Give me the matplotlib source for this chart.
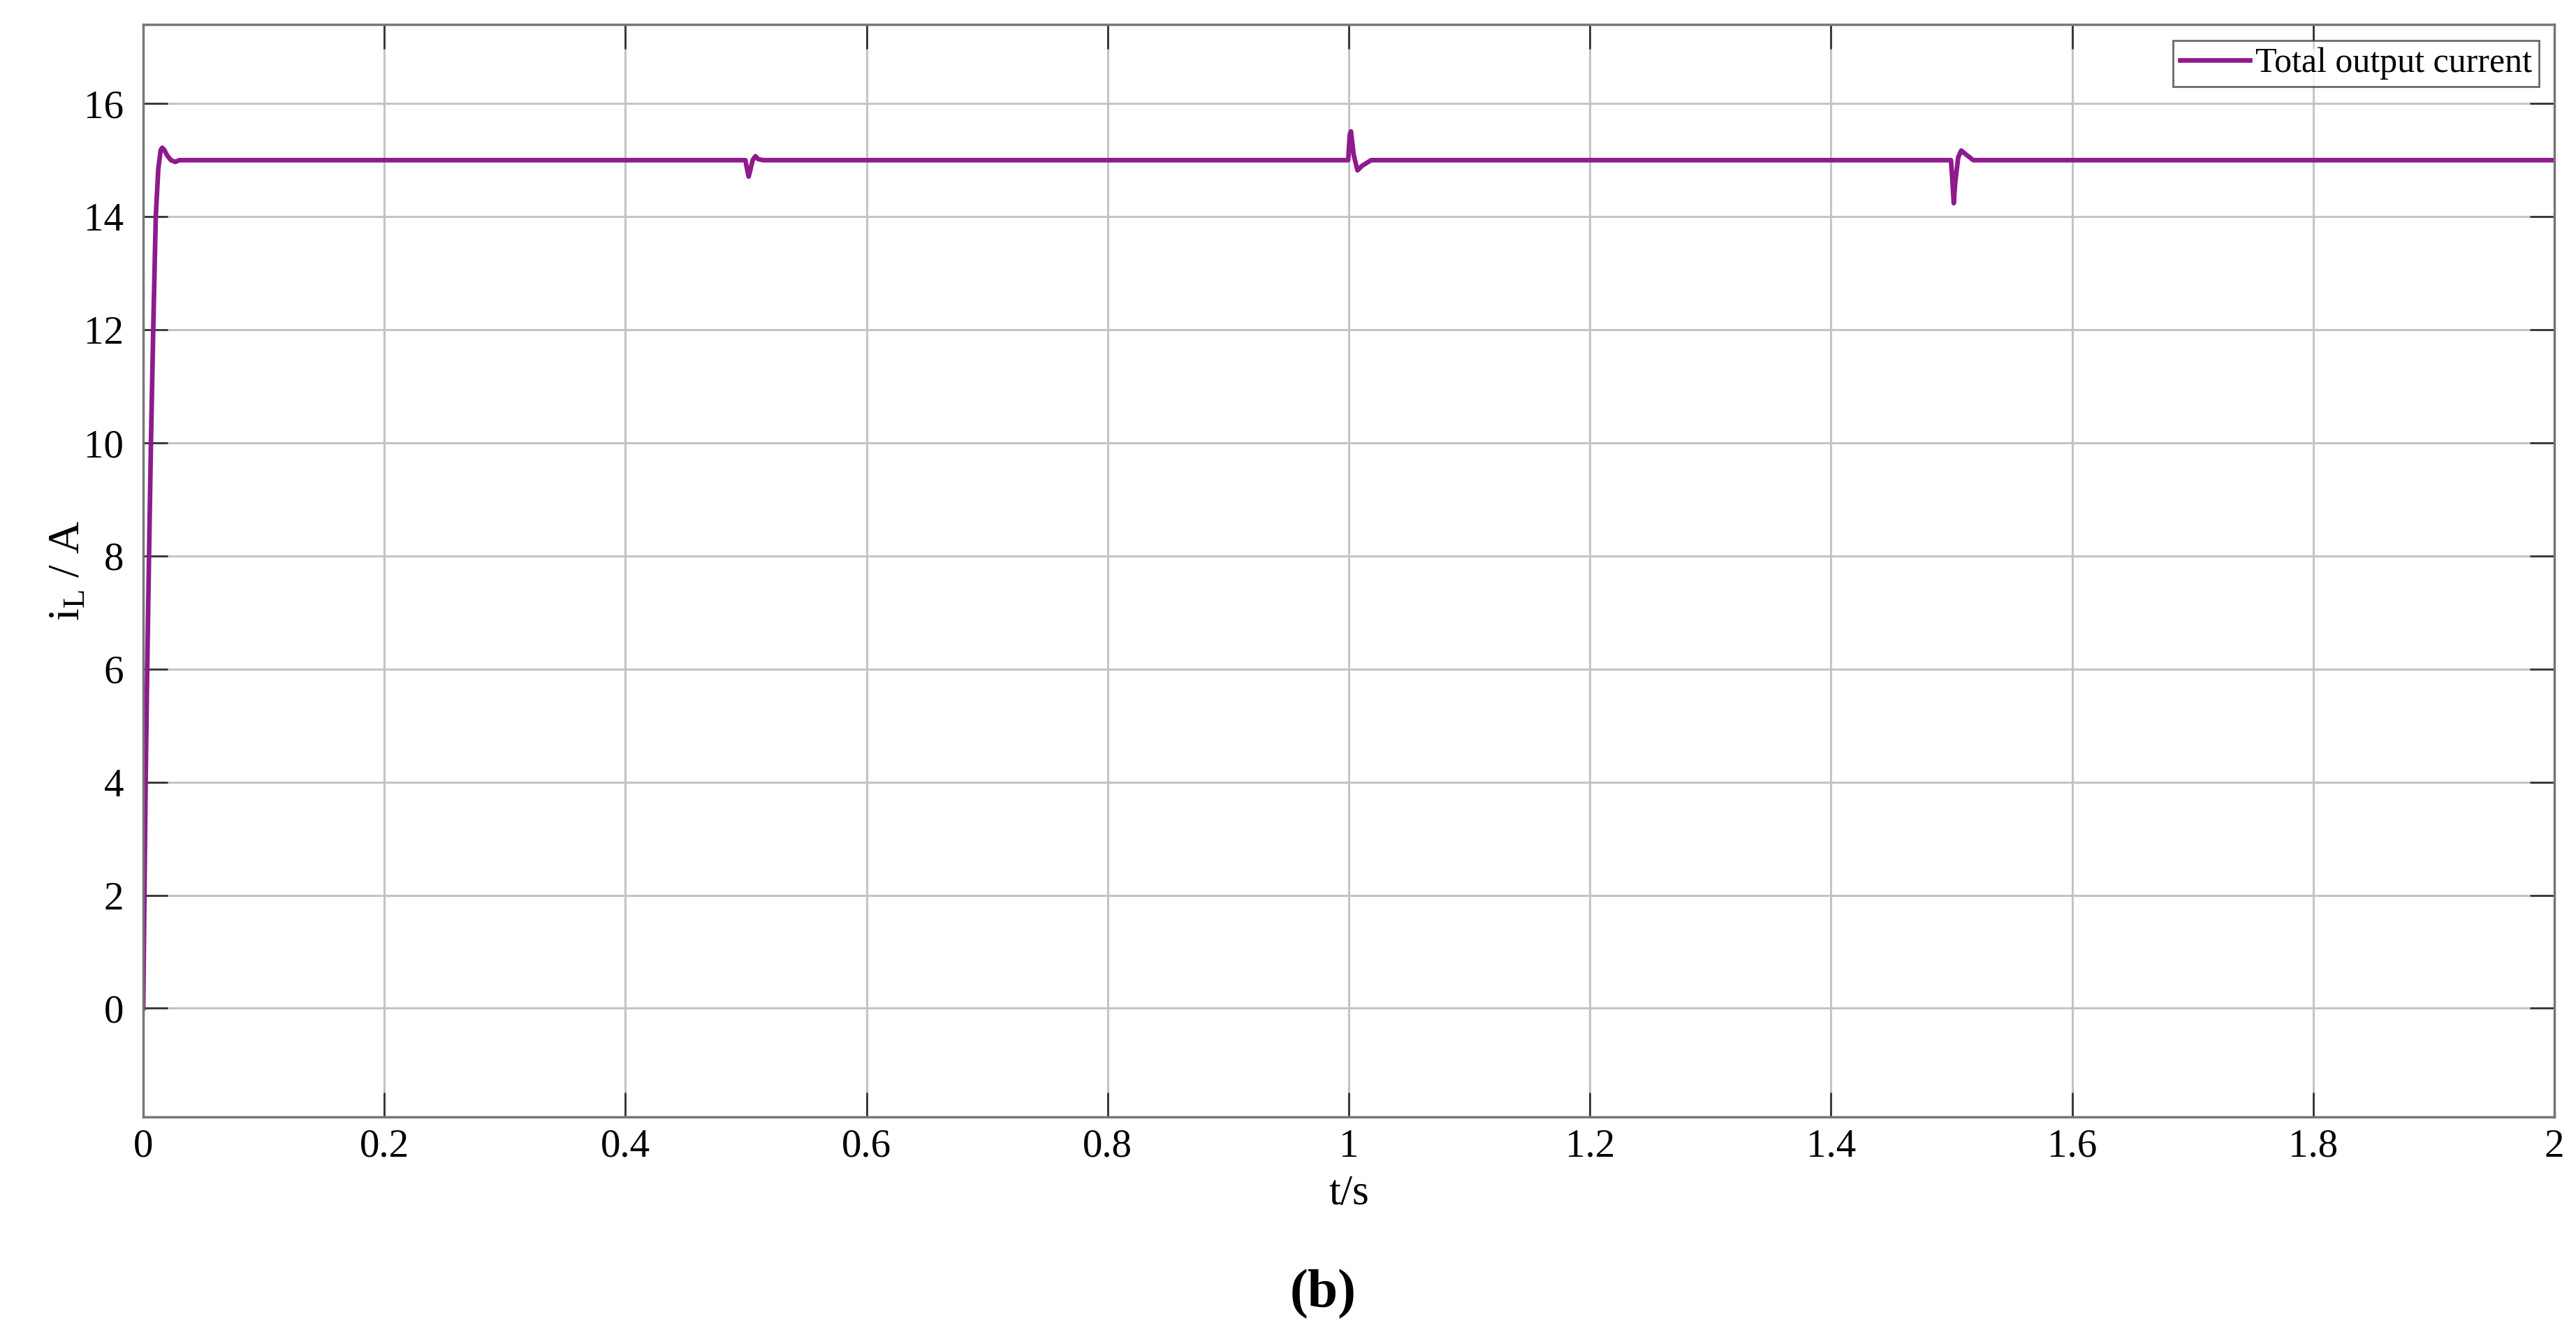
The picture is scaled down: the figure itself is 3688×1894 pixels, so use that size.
import numpy as np
import matplotlib
matplotlib.use('Agg')
import matplotlib.pyplot as plt

# waveform (t in s, current in A)
t = [0, 0.001, 0.002, 0.0033, 0.0048, 0.0064, 0.0083, 0.0104, 0.0125, 0.0145,
     0.0158, 0.0175, 0.020, 0.023, 0.0266, 0.030, 0.035,
     0.4995, 0.5008, 0.5022, 0.5035, 0.5055, 0.5078, 0.510, 0.514,
     0.9995, 1.0008, 1.0018, 1.004, 1.0072, 1.011, 1.0185,
     1.4995, 1.5005, 1.5018, 1.503, 1.5055, 1.508, 1.512, 1.518, 2.0]
i_out = [0, 2, 4, 6, 8, 10, 12, 14, 14.85, 15.18,
         15.22, 15.18, 15.08, 15.0, 14.97, 15.0, 15.0,
         15.0, 14.85, 14.71, 14.82, 15.0, 15.07, 15.02, 15.0,
         15.0, 15.45, 15.51, 15.1, 14.82, 14.9, 15.0,
         15.0, 14.7, 14.24, 14.6, 15.05, 15.17, 15.1, 15.0, 15.0]

x_ticks = [0, 0.2, 0.4, 0.6, 0.8, 1, 1.2, 1.4, 1.6, 1.8, 2]
x_labels = ['0', '0.2', '0.4', '0.6', '0.8', '1', '1.2', '1.4', '1.6', '1.8', '2']
y_ticks = [0, 2, 4, 6, 8, 10, 12, 14, 16]

plt.rcParams['font.family'] = ['Liberation Serif', 'DejaVu Serif']
plt.rcParams['mathtext.fontset'] = 'custom'
plt.rcParams['mathtext.rm'] = 'Liberation Serif'
plt.rcParams['mathtext.it'] = 'Liberation Serif'

fig = plt.figure(figsize=(36.88, 18.94), dpi=100)
ax = fig.add_axes([0.0556, 0.1558, 0.9360, 0.8257])

ax.plot(t, i_out, color='#8E1A8C', linewidth=4.8, label='Total output current')

ax.set_xlim(0, 2)
ax.set_ylim(-1.92, 17.4)
ax.set_xticks(x_ticks)
ax.set_xticklabels(x_labels)
ax.set_yticks(y_ticks)
ax.grid(True, color='#c4c4c4', linewidth=2.2)
ax.set_axisbelow(True)
for s in ax.spines.values():
    s.set_color('#777777')
    s.set_linewidth(2.5)
ax.tick_params(direction='in', length=25, width=2, color='#333333',
               labelsize=41, top=True, right=True)
ax.tick_params(axis='x', pad=12)
ax.tick_params(axis='y', pad=20)

ax.set_xlabel('t/s', fontsize=44, labelpad=10)
ax.set_ylabel('i$_\\mathrm{L}$ / A', fontsize=46)
ax.yaxis.set_label_coords(-0.0225, 0.5)

leg = ax.legend(loc='upper right', fontsize=36, frameon=True, fancybox=False,
                handlelength=2.0, handletextpad=0.15, borderpad=0.2,
                borderaxespad=0.45)
leg.get_frame().set_edgecolor('#444444')
leg.get_frame().set_linewidth(2)

fig.text(0.5135, 0.022, '(b)', fontsize=56, fontweight='bold', ha='center', va='center')

fig.savefig('out.png', dpi=100)
